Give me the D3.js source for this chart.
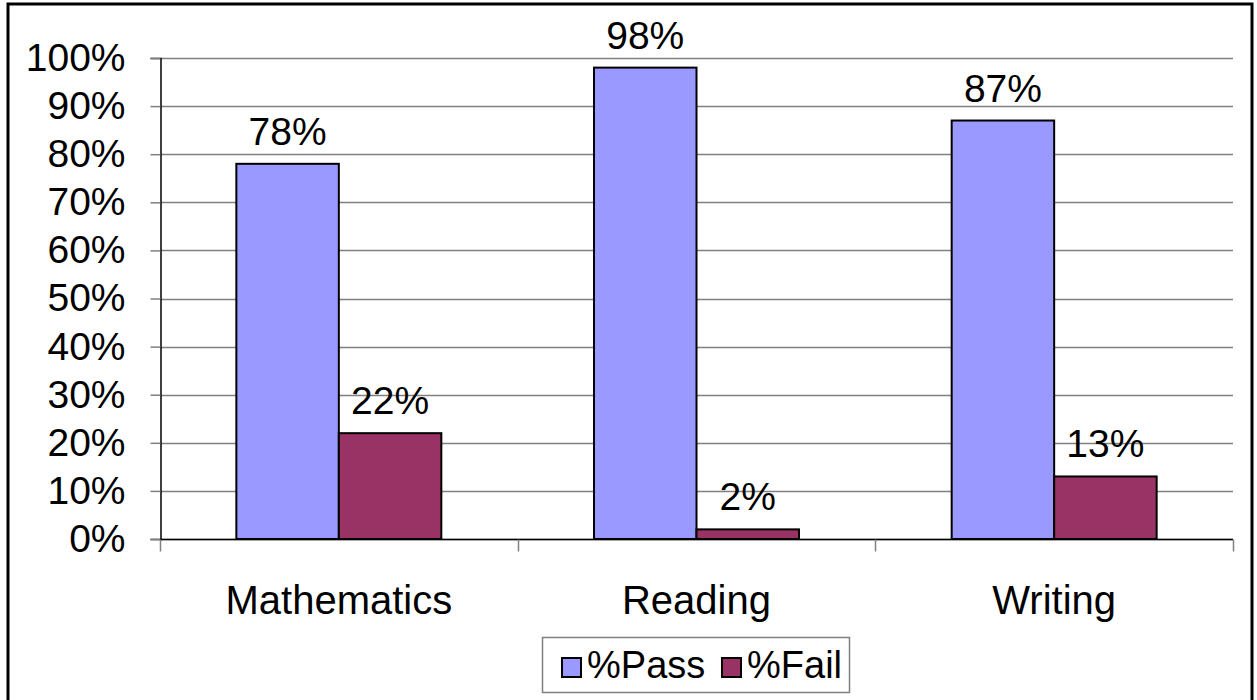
<!DOCTYPE html>
<html>
<head>
<meta charset="utf-8">
<script src="https://cdn.jsdelivr.net/npm/d3@7"></script>
<style>
  html, body { margin: 0; padding: 0; background: #fff; }
  svg { display: block; font-family: "Liberation Sans", Arial, sans-serif; }
</style>
</head>
<body>
<svg id="chart" width="1257" height="700"></svg>
<script>
const categories = ["Mathematics", "Reading", "Writing"];
const seriesNames = ["%Pass", "%Fail"];
const passValues = [0.78, 0.98, 0.87];
const failValues = [0.22, 0.02, 0.13];
const yTicks = [0, 0.1, 0.2, 0.3, 0.4, 0.5, 0.6, 0.7, 0.8, 0.9, 1.0];
const colors = ["#9999FF", "#993366"];

const rows = categories.map((c, i) => ({
  category: c,
  values: [
    { series: seriesNames[0], value: passValues[i], color: colors[0] },
    { series: seriesNames[1], value: failValues[i], color: colors[1] }
  ]
}));

const svg = d3.select("#chart");
const plot = { left: 160, right: 1233, top: 58, bottom: 539 };
const fontSize = 39;

// outer border (bottom is cut off in the reference)
svg.append("rect")
  .attr("x", 8).attr("y", 4)
  .attr("width", 1244).attr("height", 720)
  .attr("fill", "#fff").attr("stroke", "#000").attr("stroke-width", 3);

const y = d3.scaleLinear().domain([0, 1]).range([plot.bottom, plot.top]);
const x = d3.scaleBand().domain(categories).range([plot.left, plot.right]).padding(0);
const xInner = d3.scaleBand().domain(seriesNames).range([0, x.bandwidth()])
  .paddingInner(0).paddingOuter(0.745);

// gridlines
svg.append("g")
  .selectAll("line")
  .data(yTicks)
  .join("line")
  .attr("x1", plot.left).attr("x2", plot.right)
  .attr("y1", d => Math.round(y(d)) + 0.5).attr("y2", d => Math.round(y(d)) + 0.5)
  .attr("stroke", "#808080").attr("stroke-width", 1.5);

// y axis
const yAxis = svg.append("g")
  .attr("transform", `translate(${plot.left + 0.5},0)`)
  .call(d3.axisLeft(y).tickValues(yTicks).tickFormat(d3.format(".0%"))
    .tickSize(10).tickPadding(25));
yAxis.select(".domain").attr("stroke", "#000").attr("stroke-width", 1.5);
yAxis.selectAll(".tick line").attr("stroke", "#808080").attr("stroke-width", 1.5);
yAxis.selectAll("text").attr("font-size", fontSize).attr("fill", "#000")
  .attr("font-family", "Liberation Sans, Arial, sans-serif");

// bars
const groups = svg.append("g").selectAll("g")
  .data(rows)
  .join("g")
  .attr("transform", d => `translate(${x(d.category)},0)`);

groups.selectAll("rect")
  .data(d => d.values)
  .join("rect")
  .attr("x", d => xInner(d.series))
  .attr("y", d => y(d.value))
  .attr("width", xInner.bandwidth())
  .attr("height", d => y(0) - y(d.value))
  .attr("fill", d => d.color)
  .attr("stroke", "#000").attr("stroke-width", 2);

groups.selectAll("text")
  .data(d => d.values)
  .join("text")
  .attr("x", d => xInner(d.series) + xInner.bandwidth() / 2)
  .attr("y", d => y(d.value) - 19)
  .attr("text-anchor", "middle")
  .attr("font-size", fontSize)
  .text(d => d3.format(".0%")(d.value));

// x axis
const xAxis = svg.append("g")
  .attr("transform", `translate(0,${plot.bottom + 0.5})`);
xAxis.append("line")
  .attr("x1", plot.left).attr("x2", plot.right)
  .attr("stroke", "#000").attr("stroke-width", 1.5);
const boundaries = categories.map(c => x(c)).concat([x(categories[categories.length - 1]) + x.bandwidth()]);
xAxis.selectAll("line.tick")
  .data(boundaries)
  .join("line").attr("class", "tick")
  .attr("x1", d => Math.round(d) + 0.5).attr("x2", d => Math.round(d) + 0.5)
  .attr("y1", 0).attr("y2", 12)
  .attr("stroke", "#808080").attr("stroke-width", 1.5);
xAxis.selectAll("text")
  .data(categories)
  .join("text")
  .attr("x", d => x(d) + x.bandwidth() / 2)
  .attr("y", 613 - plot.bottom)
  .attr("text-anchor", "middle")
  .attr("font-size", 40)
  .text(d => d);

// legend
const legend = svg.append("g");
legend.append("rect")
  .attr("x", 542.5).attr("y", 637.5).attr("width", 307).attr("height", 55)
  .attr("fill", "#fff").attr("stroke", "#808080").attr("stroke-width", 1.5);
const legendX = [562, 722];
const li = legend.selectAll("g.item")
  .data(seriesNames)
  .join("g").attr("class", "item")
  .attr("transform", (d, i) => `translate(${legendX[i]},658)`);
li.append("rect")
  .attr("width", 19).attr("height", 19)
  .attr("fill", (d, i) => colors[i])
  .attr("stroke", "#000").attr("stroke-width", 2);
li.append("text")
  .attr("x", 25).attr("y", 20)
  .attr("font-size", 38)
  .text(d => d);
</script>
</body>
</html>
